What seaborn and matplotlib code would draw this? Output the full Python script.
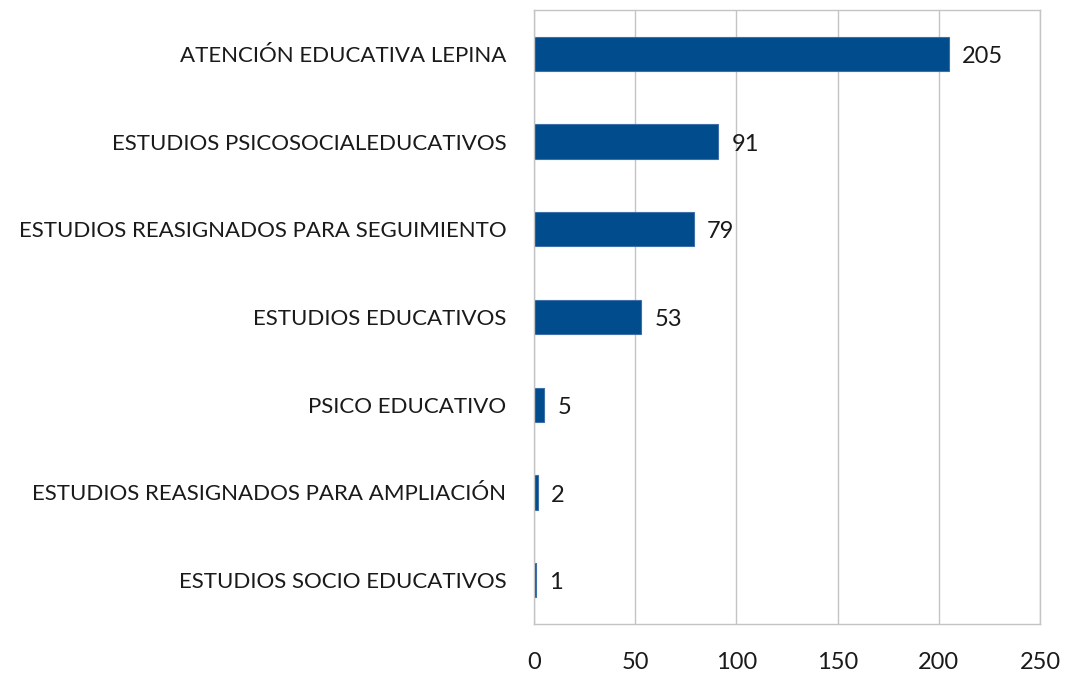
import matplotlib
matplotlib.use("Agg")
import matplotlib.pyplot as plt
import seaborn as sns
import pandas as pd

categorias = [
    "ATENCIÓN EDUCATIVA LEPINA",
    "ESTUDIOS PSICOSOCIALEDUCATIVOS",
    "ESTUDIOS REASIGNADOS PARA SEGUIMIENTO",
    "ESTUDIOS EDUCATIVOS",
    "PSICO EDUCATIVO",
    "ESTUDIOS REASIGNADOS PARA AMPLIACIÓN",
    "ESTUDIOS SOCIO EDUCATIVOS",
]
valores = [205, 91, 79, 53, 5, 2, 1]
ticks_x = [0, 50, 100, 150, 200, 250]

sns.set_theme(style="white")
plt.rcParams["font.family"] = ["Lato", "DejaVu Sans"]

df = pd.DataFrame({"categoria": categorias, "valor": valores})

fig = plt.figure(figsize=(10.67, 6.74), dpi=100)
ax = fig.add_axes([534 / 1067, 1 - 624 / 674, (1040 - 534) / 1067, (624 - 10) / 674])

sns.barplot(data=df, x="valor", y="categoria", orient="h", color="#004C8C",
            width=0.39, edgecolor="#3E6FA8", linewidth=0.8, saturation=1, ax=ax)

ax.set_xlim(0, 250)
ax.set_xticks(ticks_x)
ax.set_ylim(6.5, -0.5)
ax.xaxis.grid(True, color="#C4C4C4", linewidth=1)
ax.set_axisbelow(True)
for s in ax.spines.values():
    s.set_color("#C4C4C4")
    s.set_linewidth(1)
ax.set_xlabel("")
ax.set_ylabel("")
ax.tick_params(axis="y", length=0, labelsize=16, colors="#1a1a1a", pad=20)
ax.tick_params(axis="x", length=0, labelsize=17, colors="#1a1a1a", pad=20)

for i, v in enumerate(valores):
    ax.text(v + 6.5, i + 0.03, str(v), va="center", ha="left", fontsize=17, color="#1a1a1a")

fig.savefig("out.png", dpi=100)
